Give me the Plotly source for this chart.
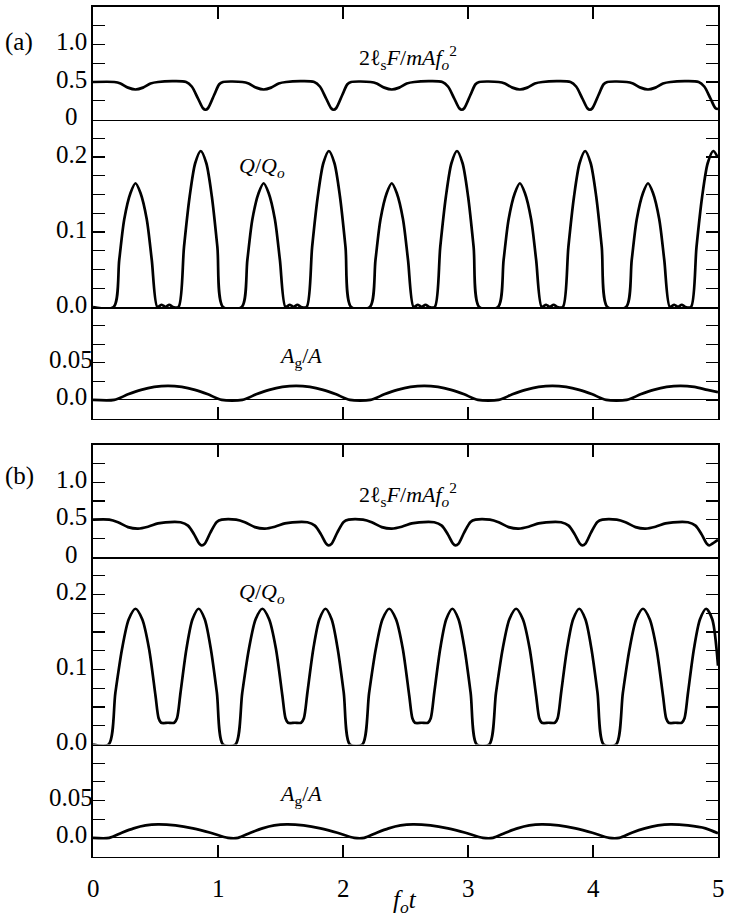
import plotly.graph_objects as go

# ---------------- data ----------------
# panel (a)
Fa_x = [0.00, 0.17, 0.22, 0.28, 0.34, 0.40, 0.46, 0.52, 0.745, 0.79, 0.84, 0.88, 0.90, 0.92, 0.97, 1.01, 1.04,
        1.195, 1.245, 1.305, 1.365, 1.425, 1.485, 1.545, 1.77, 1.815, 1.865, 1.905, 1.925, 1.945, 1.995, 2.035, 2.065,
        2.22, 2.27, 2.33, 2.39, 2.45, 2.51, 2.57, 2.795, 2.84, 2.89, 2.93, 2.95, 2.97, 3.02, 3.06, 3.09,
        3.245, 3.295, 3.355, 3.415, 3.475, 3.535, 3.595, 3.82, 3.865, 3.915, 3.955, 3.975, 3.995, 4.045, 4.085, 4.115,
        4.27, 4.32, 4.38, 4.44, 4.50, 4.56, 4.62, 4.845, 4.89, 4.94, 4.98, 5.00]
Fa_y = [0.50, 0.50, 0.48, 0.425, 0.40, 0.425, 0.48, 0.50, 0.50, 0.44, 0.28, 0.15, 0.13, 0.15, 0.33, 0.47, 0.50,
        0.50, 0.48, 0.425, 0.40, 0.425, 0.48, 0.50, 0.50, 0.44, 0.28, 0.15, 0.13, 0.15, 0.33, 0.47, 0.50,
        0.50, 0.48, 0.425, 0.40, 0.425, 0.48, 0.50, 0.50, 0.44, 0.28, 0.15, 0.13, 0.15, 0.33, 0.47, 0.50,
        0.50, 0.48, 0.425, 0.40, 0.425, 0.48, 0.50, 0.50, 0.44, 0.28, 0.15, 0.13, 0.15, 0.33, 0.47, 0.50,
        0.50, 0.48, 0.425, 0.40, 0.425, 0.48, 0.50, 0.50, 0.44, 0.28, 0.15, 0.14]

Qa_x = [0, 0.165, 0.21, 0.25, 0.30, 0.34, 0.38, 0.43, 0.47, 0.515, 0.55, 0.58, 0.61, 0.64, 0.684, 0.728, 0.773, 0.818, 0.862, 0.906, 0.951, 0.995, 1.04,
        1.19, 1.235, 1.275, 1.325, 1.365, 1.405, 1.455, 1.495, 1.54, 1.575, 1.605, 1.635, 1.665, 1.709, 1.753, 1.798, 1.843, 1.887, 1.931, 1.976, 2.02, 2.065,
        2.215, 2.26, 2.30, 2.35, 2.39, 2.43, 2.48, 2.52, 2.565, 2.60, 2.63, 2.66, 2.69, 2.734, 2.778, 2.823, 2.868, 2.912, 2.956, 3.001, 3.045, 3.09,
        3.24, 3.285, 3.325, 3.375, 3.415, 3.455, 3.505, 3.545, 3.59, 3.625, 3.655, 3.685, 3.715, 3.759, 3.803, 3.848, 3.893, 3.937, 3.981, 4.026, 4.07, 4.115,
        4.265, 4.31, 4.35, 4.40, 4.44, 4.48, 4.53, 4.57, 4.615, 4.65, 4.68, 4.71, 4.74, 4.784, 4.828, 4.873, 4.918, 4.962, 5.0]
Qa_y = [0, 0, 0.063, 0.117, 0.152, 0.165, 0.152, 0.117, 0.063, 0, 0.003, 0, 0.003, 0, 0, 0.080, 0.147, 0.192, 0.208, 0.192, 0.147, 0.080, 0,
        0, 0.063, 0.117, 0.152, 0.165, 0.152, 0.117, 0.063, 0, 0.003, 0, 0.003, 0, 0, 0.080, 0.147, 0.192, 0.208, 0.192, 0.147, 0.080, 0,
        0, 0.063, 0.117, 0.152, 0.165, 0.152, 0.117, 0.063, 0, 0.003, 0, 0.003, 0, 0, 0.080, 0.147, 0.192, 0.208, 0.192, 0.147, 0.080, 0,
        0, 0.063, 0.117, 0.152, 0.165, 0.152, 0.117, 0.063, 0, 0.003, 0, 0.003, 0, 0, 0.080, 0.147, 0.192, 0.208, 0.192, 0.147, 0.080, 0,
        0, 0.063, 0.117, 0.152, 0.165, 0.152, 0.117, 0.063, 0, 0.003, 0, 0.003, 0, 0, 0.080, 0.147, 0.192, 0.208, 0.199]

Aga_x = [0, 0.17, 0.28, 0.385, 0.49, 0.60, 0.71, 0.815, 0.92, 1.03,
         1.195, 1.305, 1.41, 1.515, 1.625, 1.735, 1.84, 1.945, 2.055,
         2.22, 2.33, 2.435, 2.54, 2.65, 2.76, 2.865, 2.97, 3.08,
         3.245, 3.355, 3.46, 3.565, 3.675, 3.785, 3.89, 3.995, 4.105,
         4.27, 4.38, 4.485, 4.59, 4.70, 4.81, 4.915, 5.0]
Aga_y = [0, 0, 0.0075, 0.0135, 0.0175, 0.019, 0.0175, 0.0135, 0.0075, 0,
         0, 0.0075, 0.0135, 0.0175, 0.019, 0.0175, 0.0135, 0.0075, 0,
         0, 0.0075, 0.0135, 0.0175, 0.019, 0.0175, 0.0135, 0.0075, 0,
         0, 0.0075, 0.0135, 0.0175, 0.019, 0.0175, 0.0135, 0.0075, 0,
         0, 0.0075, 0.0135, 0.0175, 0.019, 0.0175, 0.0135, 0.0105]

# panel (b)
Fb_x = [0.00, 0.13, 0.20, 0.28, 0.36, 0.44, 0.52, 0.58, 0.70, 0.76, 0.81, 0.85, 0.87, 0.895, 0.94, 0.99, 1.03,
        1.145, 1.215, 1.295, 1.375, 1.455, 1.535, 1.595, 1.715, 1.775, 1.825, 1.865, 1.885, 1.91, 1.955, 2.005, 2.045,
        2.16, 2.23, 2.31, 2.39, 2.47, 2.55, 2.61, 2.73, 2.79, 2.84, 2.88, 2.90, 2.925, 2.97, 3.02, 3.06,
        3.175, 3.245, 3.325, 3.405, 3.485, 3.565, 3.625, 3.745, 3.805, 3.855, 3.895, 3.915, 3.94, 3.985, 4.035, 4.075,
        4.19, 4.26, 4.34, 4.42, 4.50, 4.58, 4.64, 4.76, 4.82, 4.87, 4.91, 4.93, 4.955, 5.0]
Fb_y = [0.50, 0.50, 0.465, 0.40, 0.38, 0.405, 0.45, 0.465, 0.465, 0.42, 0.30, 0.18, 0.155, 0.18, 0.33, 0.47, 0.50,
        0.50, 0.465, 0.40, 0.38, 0.405, 0.45, 0.465, 0.465, 0.42, 0.30, 0.18, 0.155, 0.18, 0.33, 0.47, 0.50,
        0.50, 0.465, 0.40, 0.38, 0.405, 0.45, 0.465, 0.465, 0.42, 0.30, 0.18, 0.155, 0.18, 0.33, 0.47, 0.50,
        0.50, 0.465, 0.40, 0.38, 0.405, 0.45, 0.465, 0.465, 0.42, 0.30, 0.18, 0.155, 0.18, 0.33, 0.47, 0.50,
        0.50, 0.465, 0.40, 0.38, 0.405, 0.45, 0.465, 0.465, 0.42, 0.30, 0.18, 0.155, 0.18, 0.23]

Qb_x = [0, 0.125, 0.179, 0.233, 0.286, 0.34, 0.394, 0.448, 0.50, 0.525, 0.545, 0.60, 0.65, 0.672, 0.70, 0.748, 0.796, 0.845, 0.894, 0.942, 0.991, 1.04,
        1.14, 1.194, 1.248, 1.301, 1.355, 1.409, 1.463, 1.515, 1.54, 1.56, 1.615, 1.665, 1.687, 1.715, 1.763, 1.811, 1.86, 1.909, 1.957, 2.006, 2.055,
        2.155, 2.209, 2.263, 2.316, 2.37, 2.424, 2.478, 2.53, 2.555, 2.575, 2.63, 2.68, 2.702, 2.73, 2.778, 2.826, 2.875, 2.924, 2.972, 3.021, 3.07,
        3.17, 3.224, 3.278, 3.331, 3.385, 3.439, 3.493, 3.545, 3.57, 3.59, 3.645, 3.695, 3.717, 3.745, 3.793, 3.841, 3.89, 3.939, 3.987, 4.036, 4.085,
        4.185, 4.239, 4.293, 4.346, 4.40, 4.454, 4.508, 4.56, 4.585, 4.605, 4.66, 4.71, 4.732, 4.76, 4.808, 4.856, 4.905, 4.954, 5.0]
Qb_y = [0, 0, 0.069, 0.128, 0.167, 0.181, 0.167, 0.128, 0.065, 0.035, 0.029, 0.029, 0.029, 0.035, 0.069, 0.128, 0.167, 0.181, 0.167, 0.128, 0.069, 0,
        0, 0.069, 0.128, 0.167, 0.181, 0.167, 0.128, 0.065, 0.035, 0.029, 0.029, 0.029, 0.035, 0.069, 0.128, 0.167, 0.181, 0.167, 0.128, 0.069, 0,
        0, 0.069, 0.128, 0.167, 0.181, 0.167, 0.128, 0.065, 0.035, 0.029, 0.029, 0.029, 0.035, 0.069, 0.128, 0.167, 0.181, 0.167, 0.128, 0.069, 0,
        0, 0.069, 0.128, 0.167, 0.181, 0.167, 0.128, 0.065, 0.035, 0.029, 0.029, 0.029, 0.035, 0.069, 0.128, 0.167, 0.181, 0.167, 0.128, 0.069, 0,
        0, 0.069, 0.128, 0.167, 0.181, 0.167, 0.128, 0.065, 0.035, 0.029, 0.029, 0.029, 0.035, 0.069, 0.128, 0.167, 0.181, 0.167, 0.105]

Agb_x = [0, 0.13, 0.23, 0.325, 0.42, 0.52, 0.66, 0.80, 0.94, 1.08,
         1.16, 1.26, 1.355, 1.45, 1.55, 1.685, 1.82, 1.955, 2.09,
         2.17, 2.27, 2.365, 2.46, 2.56, 2.70, 2.84, 2.98, 3.12,
         3.20, 3.30, 3.395, 3.49, 3.59, 3.725, 3.86, 3.995, 4.13,
         4.21, 4.31, 4.415, 4.52, 4.62, 4.76, 4.90, 5.0]
Agb_y = [0, 0, 0.0069, 0.0127, 0.0166, 0.018, 0.0166, 0.0127, 0.0069, 0,
         0, 0.0069, 0.0127, 0.0166, 0.018, 0.0166, 0.0127, 0.0069, 0,
         0, 0.0069, 0.0127, 0.0166, 0.018, 0.0166, 0.0127, 0.0069, 0,
         0, 0.0069, 0.0127, 0.0166, 0.018, 0.0166, 0.0127, 0.0069, 0,
         0, 0.0069, 0.0127, 0.0166, 0.018, 0.0166, 0.0127, 0.006]

for a, b in [(Fa_x, Fa_y), (Qa_x, Qa_y), (Aga_x, Aga_y), (Fb_x, Fb_y), (Qb_x, Qb_y), (Agb_x, Agb_y)]:
    assert len(a) == len(b), (len(a), len(b))

# axis tick values / labels
x_ticks = [1, 2, 3, 4]
x_labels = ["0", "1", "2", "3", "4", "5"]
x_label_vals = [0, 1, 2, 3, 4, 5]
F_ticks = [0.25, 0.5, 0.75, 1.0, 1.25]
F_labels = [(0, "0"), (0.5, "0.5"), (1.0, "1.0")]
Q_ticks = [0.025, 0.05, 0.075, 0.1, 0.125, 0.15, 0.175, 0.2, 0.225]
Q_labels = [(0, "0.0"), (0.1, "0.1"), (0.2, "0.2")]
Ag_ticks = [0, 0.025, 0.05, 0.075, 0.1]
Ag_labels = [(0, "0.0"), (0.05, "0.05")]

# ---------------- layout ----------------
W, H = 729, 923
def fx(px): return px / W
def fy(py): return 1 - py / H

FONT = "Liberation Serif, Times New Roman, serif"
X0, X1 = 93, 718
XDOM = [fx(X0), fx(X1)]
LW = 1.8

panels = [  # top, sep1, sep2, bottom (pixels)
    (7, 119.5, 307, 418.5),
    (445, 557, 744.5, 856.5),
]

fig = go.Figure()
series = [(Fa_x, Fa_y), (Qa_x, Qa_y), (Aga_x, Aga_y), (Fb_x, Fb_y), (Qb_x, Qb_y), (Agb_x, Agb_y)]
for i, (xs, ys) in enumerate(series):
    n = "" if i == 0 else str(i + 1)
    fig.add_trace(go.Scatter(x=xs, y=ys, mode="lines", xaxis="x" + n, yaxis="y" + n,
                             line=dict(color="black", width=2.7, shape="spline", smoothing=0.8),
                             showlegend=False, hoverinfo="skip"))

layout = dict(width=W, height=H, margin=dict(l=0, r=0, t=0, b=0),
              paper_bgcolor="white", plot_bgcolor="white", showlegend=False,
              font=dict(family=FONT, size=25, color="black"))

annotations = []
yranges = [[0, 1.5], [0, 0.25], [-0.025, 0.125]]
yticks = [F_ticks, Q_ticks, Ag_ticks]
ylabels = [F_labels, Q_labels, Ag_labels]
for p, (top, s1, s2, bot) in enumerate(panels):
    doms = [[fy(s1), fy(top)], [fy(s2), fy(s1)], [fy(bot), fy(s2)]]
    for j in range(3):
        idx = p * 3 + j + 1
        n = "" if idx == 1 else str(idx)
        xa = dict(domain=XDOM, range=[0, 5], anchor="y" + n, showline=True, linecolor="black",
                  linewidth=LW, showgrid=False, zeroline=False, showticklabels=False)
        if j == 0:   # top border + separator below
            xa.update(side="top", mirror=True, ticks="inside", tickvals=x_ticks, ticklen=12,
                      tickwidth=1.3, tickcolor="black")
        elif j == 1:  # separator below only
            xa.update(side="bottom", mirror=False, ticks="")
        else:         # bottom border with inward ticks
            xa.update(side="bottom", mirror=False, ticks="inside", tickvals=x_ticks, ticklen=12,
                      tickwidth=1.3, tickcolor="black")
        ya = dict(domain=doms[j], range=yranges[j], anchor="x" + n, showline=True, linecolor="black",
                  linewidth=LW, mirror="ticks", ticks="inside", tickvals=yticks[j], ticklen=12,
                  tickwidth=1.3, tickcolor="black", showgrid=False, showticklabels=False,
                  zeroline=(j == 2), zerolinecolor="black", zerolinewidth=1)
        layout["xaxis" + n] = xa
        layout["yaxis" + n] = ya
        for v, t in ylabels[j]:
            annotations.append(dict(x=fx(71), xref="paper", y=v, yref="y" + n, text=t,
                                    showarrow=False, xanchor="center", yanchor="middle", yshift=3,
                                    font=dict(family=FONT, size=25)))

# x tick labels under the bottom axis
for v, t in zip(x_label_vals, x_labels):
    annotations.append(dict(x=fx(X0 + v * (X1 - X0) / 5), xref="paper", y=fy(888), yref="paper",
                            text=t, showarrow=False, xanchor="center", yanchor="middle",
                            font=dict(family=FONT, size=25)))
annotations.append(dict(x=fx(405), xref="paper", y=fy(901), yref="paper",
                        text="<i>f</i><sub><i>o</i></sub><i>t</i>", showarrow=False,
                        xanchor="center", yanchor="middle", font=dict(family=FONT, size=25)))

# panel letters and curve labels
F_text = "2ℓ<sub>s</sub><i>F</i>/<i>mAf</i><sub><i>o</i></sub><sup>2</sup>"
Q_text = "<i>Q</i>/<i>Q</i><sub><i>o</i></sub>"
A_text = "<i>A</i><sub>g</sub>/<i>A</i>"
labels = [
    ("(a)", 19, 42, "center", 25),
    ("(b)", 19, 476, "center", 25),
    (F_text, 357, 58, "left", 22),
    (F_text, 357, 495, "left", 22),
    (Q_text, 237, 167, "left", 22),
    (Q_text, 237, 593, "left", 22),
    (A_text, 277, 357, "left", 22),
    (A_text, 277, 795, "left", 22),
]
for t, px, py, xa_, sz in labels:
    annotations.append(dict(x=fx(px), xref="paper", y=fy(py), yref="paper", text=t, showarrow=False,
                            xanchor=xa_, yanchor="middle", font=dict(family=FONT, size=sz)))

layout["annotations"] = annotations
fig.update_layout(**layout)
fig.write_html("out.html", config={"displayModeBar": False, "staticPlot": True},
               post_script="document.body.style.margin='0';document.body.style.overflow='hidden';")
